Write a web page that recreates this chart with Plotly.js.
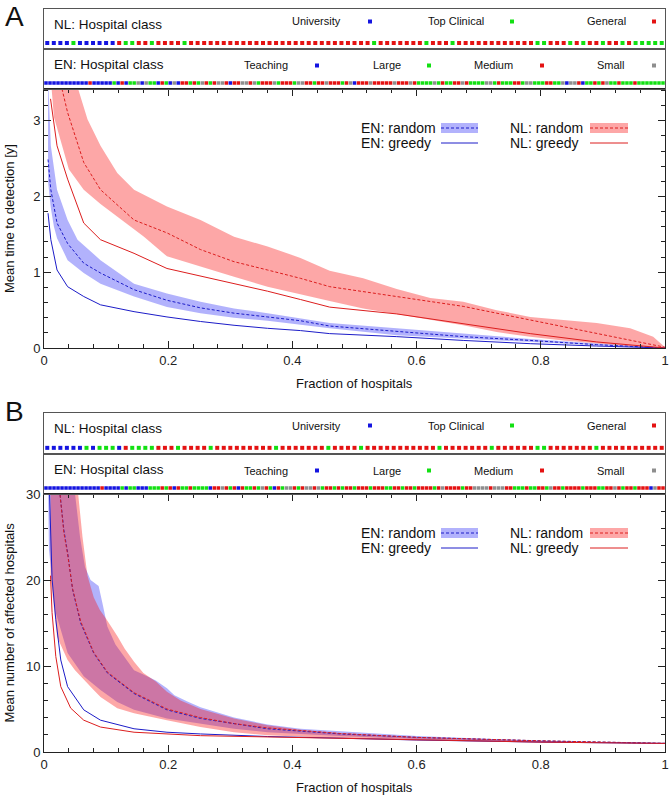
<!DOCTYPE html>
<html>
<head>
<meta charset="utf-8">
<script src="https://cdn.plot.ly/plotly-3.0.1.min.js"></script>
<style>
  body { margin: 0; background: #fff; }
  #myDiv { width: 672px; height: 796px; }
</style>
</head>
<body>
<div id="myDiv"></div>
<script>
const W = 672;
const H = 796;
const FONT = 'Liberation Sans, Arial, sans-serif';

// hospital class per rank, one letter per hospital
// B = University / Teaching, G = Top Clinical / Large, R = General / Medium, Y = Small
const nlClassA = 'BBBBGBBBBBBRGGRRGRRRRG' + 'RRRRRRRRRRRRRRRRRRRRRRRRRRRR' +
  'GRRRRRRRGRRRGRRRRRRRRRRRRGGRRRGRGRRGRRGRGGGGG';
const enClassA = 'BBBBBBBBBBBRBBBBBGBRBGGYBYGGBRG' +
  'BYBRRGRGYRGRYYRBRRYYRYGRRRYGRRRGYYRRGRRYRRRGRY' + 'B' + 'RRRYRRRRRYRRRYR' +
  'GGGGYGRGG' + 'RRYRGGGGYYGRGGGRRGYYGGGRRGGY' + 'B' + 'YYR' + 'B' + 'GGRGRYGGRGGGRGGGGGGG';
const nlClassB = 'BBBBBBGBGGGBRGGGGRRRGRRRRGRRRRRRRRRGRRRRRRRGRRRRGRRRRRRRRRRRGRRRRRRRGRRRRRRGGRRRRRRRGRRRRRRRRRR';
const enClassB = 'BBBBBBBBBBBBBBRBBBBGBGGBBBGGGRGRBRGGRGGGGBRRYRGRBRGGRGYRGBRGYYRGR' +
  'YYRYGRRGRGRRG' + 'RRRGRRRGGRRGRRGRRRRGRYRRRRGRR' + 'YYYYRYYYRR' + 'GGGRGGRRGYRRGR' +
  'RRRGRRRGGRRYRGRRGRRR' + 'BYRR';

const nlClassNames = ['University', 'Top Clinical', 'General'];
const enClassNames = ['Teaching', 'Large', 'Medium', 'Small'];
const classColor = { B: '#1414e0', G: '#12e012', R: '#e41212', Y: '#8e8e8e' };

// A: mean time to detection [y]
const aEnHiX = [0.0065, 0.011, 0.021, 0.038, 0.054, 0.091, 0.145, 0.198, 0.252, 0.306, 0.36, 0.413, 0.46, 0.568, 0.675, 0.783, 0.89, 1.0];
const aEnHiY = [3.6, 2.67, 2.09, 1.69, 1.43, 1.16, 0.85, 0.72, 0.61, 0.52, 0.46, 0.39, 0.33, 0.26, 0.19, 0.12, 0.06, 0.0];
const aEnLoX = [0.0065, 0.011, 0.016, 0.021, 0.038, 0.064, 0.091, 0.145, 0.198, 0.252, 0.306, 0.36, 0.413, 0.46, 0.568, 0.675, 0.783, 0.89, 1.0];
const aEnLoY = [2.2, 1.85, 1.6, 1.45, 1.16, 0.99, 0.85, 0.68, 0.54, 0.46, 0.40, 0.36, 0.31, 0.26, 0.17, 0.12, 0.08, 0.035, 0.0];
const aEnMeanX = [0.0065, 0.011, 0.021, 0.038, 0.064, 0.091, 0.145, 0.198, 0.252, 0.306, 0.36, 0.413, 0.46, 0.568, 0.675, 0.783, 0.89, 1.0];
const aEnMeanY = [2.49, 2.09, 1.65, 1.38, 1.12, 0.99, 0.77, 0.63, 0.53, 0.46, 0.41, 0.36, 0.29, 0.22, 0.15, 0.10, 0.044, 0.0];
const aEnGreedyX = [0.0065, 0.011, 0.021, 0.038, 0.064, 0.091, 0.145, 0.198, 0.252, 0.306, 0.36, 0.413, 0.46, 0.568, 0.675, 0.783, 0.89, 1.0];
const aEnGreedyY = [1.78, 1.43, 1.03, 0.81, 0.68, 0.57, 0.48, 0.41, 0.35, 0.30, 0.26, 0.23, 0.19, 0.15, 0.10, 0.057, 0.026, 0.0];

const aNlHiX = [0.0105, 0.05, 0.055, 0.07, 0.091, 0.118, 0.145, 0.198, 0.252, 0.306, 0.36, 0.413, 0.46, 0.514, 0.568, 0.622, 0.675, 0.729, 0.783, 0.836, 0.89, 0.944, 0.981, 1.0];
const aNlHiY = [3.6, 3.6, 3.42, 3.02, 2.67, 2.31, 2.09, 1.87, 1.69, 1.47, 1.34, 1.19, 1.02, 0.92, 0.78, 0.66, 0.61, 0.50, 0.41, 0.37, 0.33, 0.26, 0.15, 0.01];
const aNlLoX = [0.0105, 0.016, 0.04, 0.064, 0.091, 0.118, 0.161, 0.198, 0.252, 0.306, 0.36, 0.413, 0.46, 0.514, 0.568, 0.622, 0.675, 0.729, 0.783, 0.836, 0.89, 0.944, 1.0];
const aNlLoY = [3.6, 3.05, 2.36, 2.09, 1.9, 1.74, 1.47, 1.21, 1.07, 0.94, 0.81, 0.71, 0.62, 0.52, 0.45, 0.37, 0.30, 0.21, 0.15, 0.10, 0.057, 0.022, 0.0];
const aNlMeanX = [0.0105, 0.02, 0.029, 0.038, 0.064, 0.091, 0.145, 0.198, 0.252, 0.306, 0.36, 0.413, 0.46, 0.568, 0.675, 0.783, 0.89, 1.0];
const aNlMeanY = [4.8, 3.9, 3.42, 3.11, 2.45, 2.09, 1.69, 1.52, 1.30, 1.14, 1.03, 0.92, 0.81, 0.68, 0.55, 0.37, 0.19, 0.01];
const aNlGreedyX = [0.0105, 0.016, 0.021, 0.038, 0.064, 0.091, 0.118, 0.145, 0.198, 0.252, 0.306, 0.36, 0.413, 0.46, 0.568, 0.675, 0.783, 0.89, 1.0];
const aNlGreedyY = [3.29, 2.95, 2.67, 2.23, 1.65, 1.43, 1.34, 1.25, 1.05, 0.95, 0.85, 0.75, 0.64, 0.54, 0.45, 0.32, 0.19, 0.08, 0.0];

// B: mean number of affected hospitals
const bEnHiX = [0.0065, 0.05, 0.058, 0.066, 0.075, 0.088, 0.095, 0.102, 0.115, 0.13, 0.145, 0.16, 0.18, 0.198, 0.21, 0.23, 0.252, 0.306, 0.36, 0.413, 0.477, 0.6, 0.8, 1.0];
const bEnHiY = [31, 30, 25, 21.5, 20.0, 19.3, 17, 14.6, 12.5, 11.0, 9.5, 9.0, 8.3, 7.4, 6.6, 5.9, 5.2, 4.0, 3.2, 2.7, 2.4, 1.85, 1.3, 1.0];
const bEnLoX = [0.0065, 0.008, 0.019, 0.038, 0.064, 0.091, 0.118, 0.145, 0.198, 0.252, 0.306, 0.36, 0.477, 0.6, 0.8, 1.0];
const bEnLoY = [31, 23.5, 16.2, 11.5, 8.8, 7.2, 5.8, 4.9, 3.9, 3.3, 2.7, 2.3, 1.85, 1.5, 1.15, 1.0];
const bEnMeanX = [0.025, 0.032, 0.038, 0.046, 0.059, 0.08, 0.102, 0.145, 0.198, 0.252, 0.306, 0.36, 0.477, 0.6, 0.8, 1.0];
const bEnMeanY = [30.5, 25.8, 23.2, 18.9, 15.0, 11.5, 9.2, 6.8, 4.9, 3.9, 3.3, 2.7, 2.1, 1.7, 1.3, 1.0];
const bEnGreedyX = [0.0085, 0.013, 0.019, 0.027, 0.038, 0.064, 0.091, 0.145, 0.198, 0.252, 0.36, 0.477, 0.6, 0.8, 1.0];
const bEnGreedyY = [31, 20.1, 15.4, 10.7, 7.6, 4.9, 3.7, 2.7, 2.3, 2.1, 1.8, 1.6, 1.4, 1.15, 1.0];

const bNlHiX = [0.0105, 0.05, 0.055, 0.062, 0.07, 0.08, 0.09, 0.1, 0.118, 0.13, 0.145, 0.16, 0.18, 0.198, 0.22, 0.252, 0.306, 0.36, 0.413, 0.477, 0.6, 0.8, 1.0];
const bNlHiY = [31, 31, 30, 25, 20.5, 18, 16.5, 15.5, 13.5, 12, 10.5, 9.2, 8.2, 7.0, 6.0, 5.0, 3.9, 3.1, 2.6, 2.2, 1.75, 1.3, 1.0];
const bNlLoX = [0.0105, 0.021, 0.038, 0.05, 0.064, 0.08, 0.091, 0.118, 0.145, 0.198, 0.252, 0.306, 0.36, 0.477, 0.6, 0.8, 1.0];
const bNlLoY = [20.5, 13.4, 10.7, 9.5, 8.4, 7.2, 6.4, 5.1, 4.5, 3.7, 2.9, 2.3, 1.95, 1.6, 1.35, 1.1, 0.98];
const bNlMeanX = [0.025, 0.032, 0.038, 0.046, 0.059, 0.08, 0.102, 0.145, 0.198, 0.252, 0.306, 0.36, 0.477, 0.6, 0.8, 1.0];
const bNlMeanY = [30.5, 25.5, 23.0, 19.0, 15.2, 11.6, 9.3, 6.9, 5.0, 4.0, 3.3, 2.8, 2.15, 1.7, 1.3, 1.0];
const bNlGreedyX = [0.0105, 0.013, 0.019, 0.027, 0.043, 0.064, 0.091, 0.145, 0.252, 0.477, 0.6, 0.8, 1.0];
const bNlGreedyY = [20.5, 16.2, 11.1, 7.6, 5.1, 3.7, 2.9, 2.3, 1.9, 1.6, 1.4, 1.15, 1.0];

const blueLine = '#1c1cc8';
const redLine = '#dc1e1e';
const blueFill = 'rgba(20,20,245,0.33)';
const redFill = 'rgba(250,10,10,0.36)';

const px = (p) => p / W;
const py = (p) => 1 - p / H;

const xDom = [px(44), px(665)];
const panels = [
  { letter: 'A', letterY: 17, top: 9, split: 49, plotTop: 89, bottom: 348, ymax: 3.42, dtick: 1, minor: 0.2,
    ytitle: 'Mean time to detection [y]', ytitleX: 9.5,
    nl: nlClassA, en: enClassA,
    series: {
      enHi: [aEnHiX, aEnHiY], enLo: [aEnLoX, aEnLoY], enMean: [aEnMeanX, aEnMeanY], enGreedy: [aEnGreedyX, aEnGreedyY],
      nlHi: [aNlHiX, aNlHiY], nlLo: [aNlLoX, aNlLoY], nlMean: [aNlMeanX, aNlMeanY], nlGreedy: [aNlGreedyX, aNlGreedyY],
    } },
  { letter: 'B', letterY: 411, top: 413, split: 454, plotTop: 494, bottom: 752, ymax: 30, dtick: 10, minor: 2,
    ytitle: 'Mean number of affected hospitals', ytitleX: 8.5,
    nl: nlClassB, en: enClassB,
    series: {
      enHi: [bEnHiX, bEnHiY], enLo: [bEnLoX, bEnLoY], enMean: [bEnMeanX, bEnMeanY], enGreedy: [bEnGreedyX, bEnGreedyY],
      nlHi: [bNlHiX, bNlHiY], nlLo: [bNlLoX, bNlLoY], nlMean: [bNlMeanX, bNlMeanY], nlGreedy: [bNlGreedyX, bNlGreedyY],
    } },
];

const band = (hi, lo, fill, xa, ya) => ({
  x: hi[0].concat(lo[0].slice().reverse()),
  y: hi[1].concat(lo[1].slice().reverse()),
  mode: 'lines',
  fill: 'toself',
  fillcolor: fill,
  line: { width: 0 },
  hoverinfo: 'skip',
  xaxis: xa,
  yaxis: ya,
});

const line = (s, color, dash, xa, ya) => ({
  x: s[0],
  y: s[1],
  mode: 'lines',
  line: { color: color, width: 1, dash: dash },
  xaxis: xa,
  yaxis: ya,
});

const strip = (cls, size, xa, ya) => {
  const codes = cls.split('');
  return {
    x: codes.map((c, i) => (i + 0.5) / codes.length),
    y: codes.map(() => 0.15),
    mode: 'markers',
    marker: { symbol: 'square', size: size, color: codes.map((c) => classColor[c]), line: { width: 0 } },
    hoverinfo: 'skip',
    xaxis: xa,
    yaxis: ya,
  };
};

const stripAxis = (domain, anchor) => ({
  domain: domain,
  anchor: anchor,
  range: [0, 1],
  showline: true,
  mirror: true,
  linecolor: '#555',
  linewidth: 1,
  showticklabels: false,
  ticks: '',
  showgrid: false,
  zeroline: false,
  fixedrange: true,
});

const axisStyle = {
  showline: true,
  mirror: 'allticks',
  linecolor: '#222',
  linewidth: 1,
  ticks: 'inside',
  ticklen: 7,
  tickwidth: 1,
  tickcolor: '#222',
  showgrid: false,
  zeroline: false,
  fixedrange: true,
  tickfont: { family: FONT, size: 13, color: '#222' },
};

let data = [];
let layout;

const initTraces = () => {
  data = [];
  panels.forEach((p, k) => {
    const n = k * 3;
    const xm = 'x' + (n + 1 === 1 ? '' : n + 1);
    const ym = 'y' + (n + 1 === 1 ? '' : n + 1);
    const s = p.series;
    data.push(strip(p.nl, 4, 'x' + (n + 2), 'y' + (n + 2)));
    data.push(strip(p.en, 3.5, 'x' + (n + 3), 'y' + (n + 3)));
    data.push(band(s.enHi, s.enLo, blueFill, xm, ym));
    data.push(band(s.nlHi, s.nlLo, redFill, xm, ym));
    data.push(line(s.enMean, blueLine, '3px,2px', xm, ym));
    data.push(line(s.nlMean, redLine, '3px,2px', xm, ym));
    data.push(line(s.enGreedy, blueLine, 'solid', xm, ym));
    data.push(line(s.nlGreedy, redLine, 'solid', xm, ym));
  });
};

const text = (t, x, y, size, xanchor, extra) => Object.assign({
  text: t, x: px(x), y: py(y), xref: 'paper', yref: 'paper',
  xanchor: xanchor, yanchor: 'middle', showarrow: false,
  font: { family: FONT, size: size, color: '#111' },
}, extra || {});

const square = (x, y, color) => ({
  type: 'rect', xref: 'paper', yref: 'paper',
  x0: px(x - 2), x1: px(x + 2), y0: py(y + 2), y1: py(y - 2),
  fillcolor: color, line: { width: 0 },
});

const initLayout = () => {
  layout = {
    width: W,
    height: H,
    margin: { l: 0, r: 0, t: 0, b: 0 },
    paper_bgcolor: '#fff',
    plot_bgcolor: 'rgba(0,0,0,0)',
    showlegend: false,
    font: { family: FONT, color: '#111' },
    annotations: [],
    shapes: [],
  };
  const nlKeyPos = [[343, 370], [486, 512], [628, 654]];
  const enKeyPos = [[290, 317], [403, 429], [515, 542], [627, 654]];
  panels.forEach((p, k) => {
    const n = k * 3;
    const sfx = (i) => (i === 1 ? '' : String(i));
    layout['xaxis' + sfx(n + 1)] = Object.assign({}, axisStyle, {
      domain: xDom, anchor: 'y' + sfx(n + 1), range: [0, 1], dtick: 0.2, tick0: 0,
      minor: { dtick: 0.04, ticks: 'inside', ticklen: 4, tickcolor: '#222', showgrid: false },
    });
    layout['yaxis' + sfx(n + 1)] = Object.assign({}, axisStyle, {
      domain: [py(p.bottom), py(p.plotTop)], anchor: 'x' + sfx(n + 1), range: [0, p.ymax], dtick: p.dtick, tick0: 0,
      minor: { dtick: p.minor, ticks: 'inside', ticklen: 4, tickcolor: '#222', showgrid: false },
    });
    layout['xaxis' + (n + 2)] = stripAxis(xDom, 'y' + (n + 2));
    layout['yaxis' + (n + 2)] = stripAxis([py(p.split), py(p.top)], 'x' + (n + 2));
    layout['xaxis' + (n + 3)] = stripAxis(xDom, 'y' + (n + 3));
    layout['yaxis' + (n + 3)] = stripAxis([py(p.plotTop), py(p.split)], 'x' + (n + 3));

    const a = layout.annotations;
    a.push(text(p.letter, 14, p.letterY, 28, 'center'));
    a.push(text('NL: Hospital class', 52, p.top + 15, 13.5, 'left'));
    a.push(text('EN: Hospital class', 52, p.split + 15, 13.5, 'left'));
    nlClassNames.forEach((name, i) => {
      a.push(text(name, nlKeyPos[i][0], p.top + 12.5, 11, 'right'));
      layout.shapes.push(square(nlKeyPos[i][1], p.top + 12.5, classColor['BGR'[i]]));
    });
    enClassNames.forEach((name, i) => {
      a.push(text(name, enKeyPos[i][0], p.split + 16.5, 11, 'right'));
      layout.shapes.push(square(enKeyPos[i][1], p.split + 16.5, classColor['BGRY'[i]]));
    });
    a.push(text(p.ytitle, p.ytitleX, (p.plotTop + p.bottom) / 2, 13, 'center', { textangle: -90 }));
    a.push(text('Fraction of hospitals', 354.5, p.bottom + 35, 13, 'center'));

    // legend
    const t = p.plotTop;
    a.push(text('EN: random', 359, t + 39, 14, 'left'));
    a.push(text('EN: greedy', 359, t + 54, 14, 'left'));
    a.push(text('NL: random', 508, t + 39, 14, 'left'));
    a.push(text('NL: greedy', 508, t + 54, 14, 'left'));
    [[441, 478, blueFill, blueLine], [590, 628, redFill, redLine]].forEach(([x0, x1, fill, col]) => {
      layout.shapes.push({ type: 'rect', xref: 'paper', yref: 'paper', x0: px(x0), x1: px(x1),
        y0: py(t + 44), y1: py(t + 34), fillcolor: fill, line: { width: 0 } });
      layout.shapes.push({ type: 'line', xref: 'paper', yref: 'paper', x0: px(x0), x1: px(x1),
        y0: py(t + 39), y1: py(t + 39), line: { color: col, width: 1, dash: '3px,2px' } });
      layout.shapes.push({ type: 'line', xref: 'paper', yref: 'paper', x0: px(x0), x1: px(x1),
        y0: py(t + 54), y1: py(t + 54), line: { color: col, width: 1 } });
    });
  });
};

const startGraf = () => {
  initTraces();
  initLayout();
  Plotly.newPlot('myDiv', data, layout, { staticPlot: true });
};

startGraf();
</script>
</body>
</html>
